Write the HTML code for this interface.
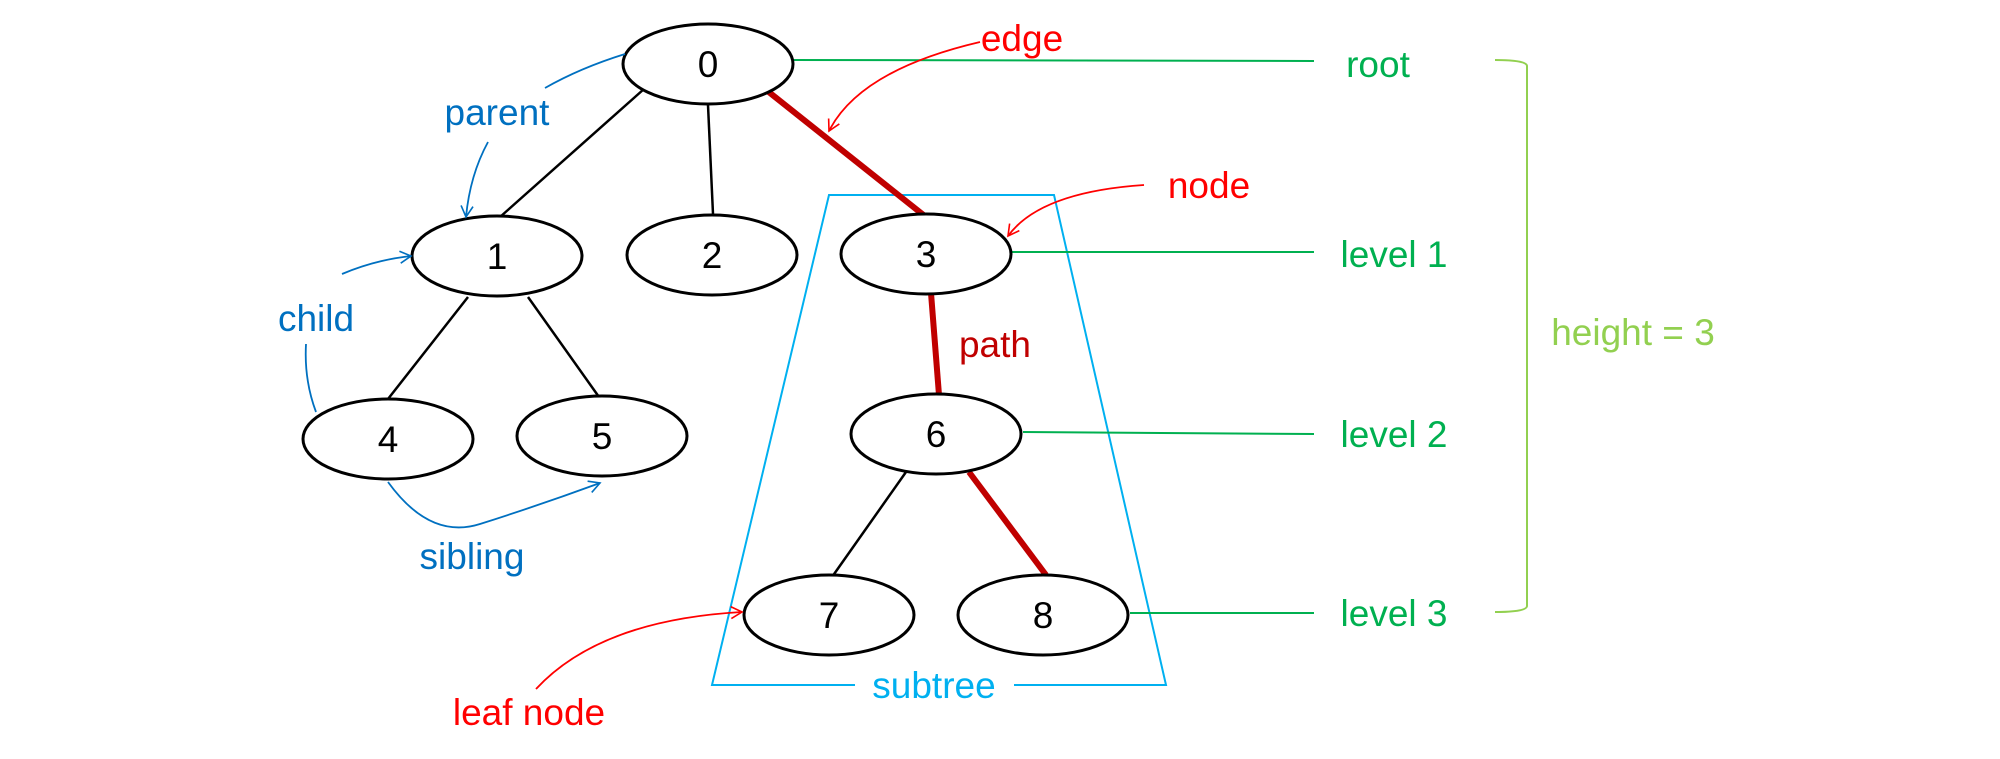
<!DOCTYPE html>
<html><head><meta charset="utf-8"><style>
html,body{margin:0;padding:0;background:#fff;}
svg{display:block;}
text{font-family:"Liberation Sans",sans-serif;font-size:37px;}
</style></head><body>
<svg width="2000" height="759" viewBox="0 0 2000 759" xmlns="http://www.w3.org/2000/svg">
<defs>
<marker id="ab" markerWidth="14" markerHeight="14" refX="12" refY="7" orient="auto" markerUnits="userSpaceOnUse"><path d="M1,1 L12,7 L1,13" fill="none" stroke="#0070c0" stroke-width="1.6"/></marker>
<marker id="ar" markerWidth="14" markerHeight="14" refX="12" refY="7" orient="auto" markerUnits="userSpaceOnUse"><path d="M1,1 L12,7 L1,13" fill="none" stroke="#ff0000" stroke-width="1.6"/></marker>
</defs>
<path d="M855,685 L712,685 L829,195 L1054,195 L1166,685 L1014,685" fill="none" stroke="#00b0f0" stroke-width="2"/>
<text x="934" y="698" text-anchor="middle" fill="#00b0f0">subtree</text>
<g stroke="#000" stroke-width="2.5">
<line x1="644" y1="89" x2="500" y2="217"/>
<line x1="708" y1="105" x2="713" y2="214"/>
<line x1="468" y1="297" x2="388" y2="399"/>
<line x1="528" y1="297" x2="599" y2="397"/>
<line x1="906" y1="472" x2="832" y2="577"/>
</g>
<g stroke="#c00000" stroke-width="6">
<line x1="765" y1="89" x2="926" y2="217"/>
<line x1="931" y1="293" x2="939" y2="395"/>
<line x1="969" y1="472" x2="1046" y2="575"/>
</g>
<g stroke="#00b050" stroke-width="2">
<line x1="793" y1="60" x2="1314" y2="61"/>
<line x1="1010" y1="252" x2="1314" y2="252"/>
<line x1="1023" y1="432" x2="1314" y2="434"/>
<line x1="1130" y1="613" x2="1314" y2="613"/>
</g>
<path d="M1495,60 Q1527,60 1527,66 L1527,606 Q1527,612 1495,612" fill="none" stroke="#92d050" stroke-width="2"/>
<g fill="#fff" stroke="#000" stroke-width="3">
<ellipse cx="708" cy="64" rx="85" ry="40"/>
<ellipse cx="497" cy="256" rx="85" ry="40"/>
<ellipse cx="712" cy="255" rx="85" ry="40"/>
<ellipse cx="926" cy="254" rx="85" ry="40"/>
<ellipse cx="388" cy="439" rx="85" ry="40"/>
<ellipse cx="602" cy="436" rx="85" ry="40"/>
<ellipse cx="936" cy="434" rx="85" ry="40"/>
<ellipse cx="829" cy="615" rx="85" ry="40"/>
<ellipse cx="1043" cy="615" rx="85" ry="40"/>
</g>
<g fill="#000" text-anchor="middle">
<text x="708" y="77">0</text>
<text x="497" y="269">1</text>
<text x="712" y="268">2</text>
<text x="926" y="267">3</text>
<text x="388" y="452">4</text>
<text x="602" y="449">5</text>
<text x="936" y="447">6</text>
<text x="829" y="628">7</text>
<text x="1043" y="628">8</text>
</g>
<g fill="none" stroke="#0070c0" stroke-width="1.8">
<path d="M625,54 Q580,68 545,88"/>
<path d="M488,142 Q470,175 466,217" marker-end="url(#ab)"/>
<path d="M342,274 Q375,260 411,256" marker-end="url(#ab)"/>
<path d="M306,344 Q304,380 316,412"/>
<path d="M388,482 Q430,540 480,524 Q540,505 600,483" marker-end="url(#ab)"/>
</g>
<g fill="#0070c0" text-anchor="middle">
<text x="497" y="125">parent</text>
<text x="316" y="331">child</text>
<text x="472" y="569">sibling</text>
</g>
<g fill="none" stroke="#ff0000" stroke-width="1.8">
<path d="M980,42 Q860,70 829,131" marker-end="url(#ar)"/>
<path d="M1144,185 Q1040,192 1008,236" marker-end="url(#ar)"/>
<path d="M536,689 Q600,620 742,612" marker-end="url(#ar)"/>
</g>
<g fill="#ff0000" text-anchor="middle">
<text x="1022" y="51">edge</text>
<text x="1209" y="198">node</text>
<text x="529" y="725">leaf node</text>
</g>
<text x="995" y="357" text-anchor="middle" fill="#c00000">path</text>
<g fill="#00b050" text-anchor="middle">
<text x="1378" y="77">root</text>
<text x="1394" y="267">level 1</text>
<text x="1394" y="447">level 2</text>
<text x="1394" y="626">level 3</text>
</g>
<text x="1633" y="345" text-anchor="middle" fill="#92d050">height = 3</text>
</svg>
</body></html>
